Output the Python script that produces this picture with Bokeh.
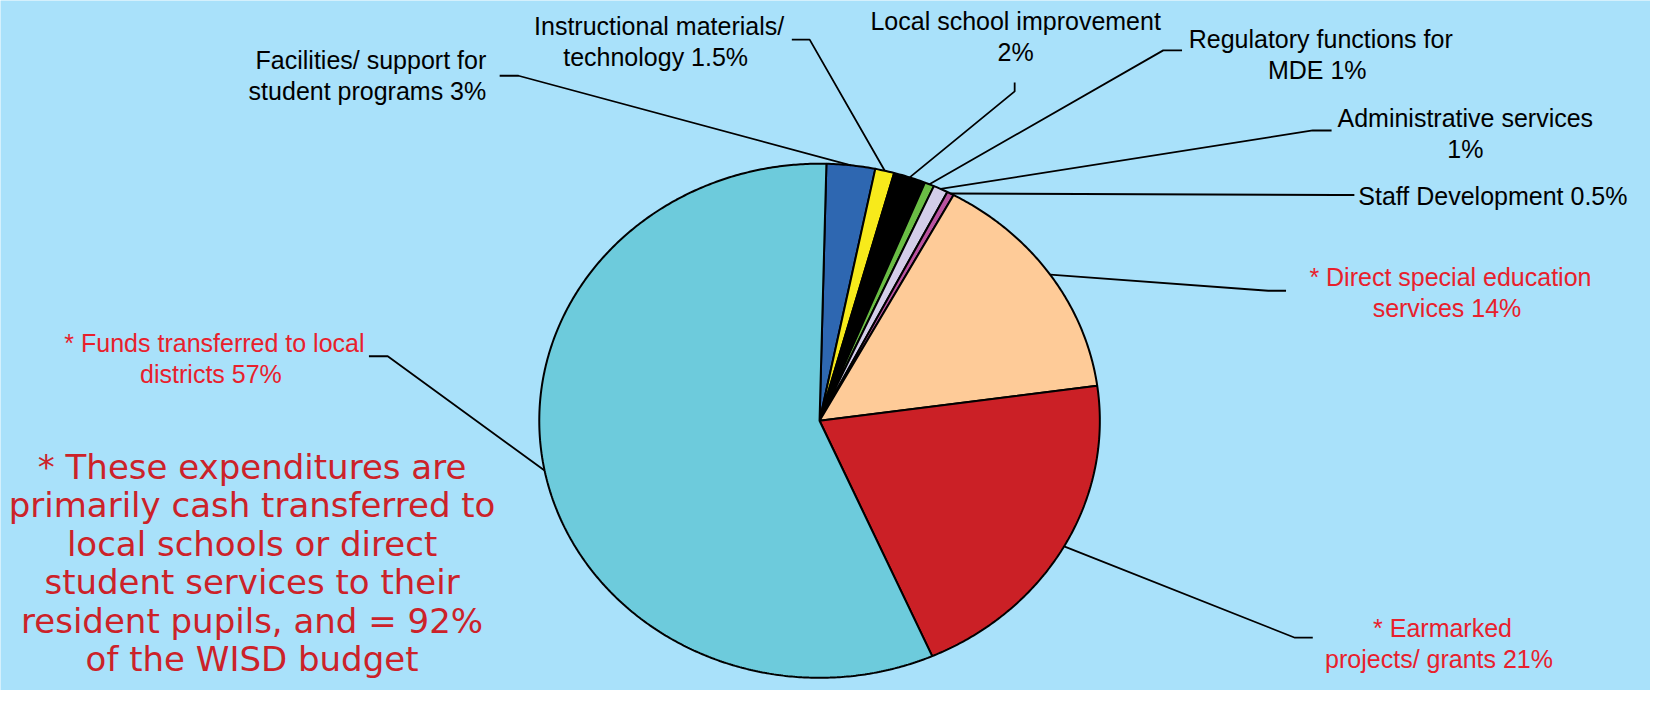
import numpy as np
from bokeh.plotting import figure
from bokeh.models import ColumnDataSource, Range1d
from bokeh.core.properties import value
from bokeh.embed import file_html
from bokeh.resources import INLINE

# ---------------- data ----------------
categories = [
    "Facilities/ support for student programs",
    "Instructional materials/ technology",
    "Local school improvement",
    "Regulatory functions for MDE",
    "Administrative services",
    "Staff Development",
    "* Direct special education services",
    "* Earmarked projects/ grants",
    "* Funds transferred to local districts",
]
# slice shares as drawn in the picture (percent)
shares = [2.8, 1.1, 1.85, 0.55, 0.85, 0.4, 14.9, 20.6, 57.0]
pct_labels = ["3%", "1.5%", "2%", "1%", "1%", "0.5%", "14%", "21%", "57%"]
colors = ["#2E67B1", "#F7EA1B", "#000000", "#6ABD45", "#D3CDE9",
          "#B9529F", "#FECB98", "#CB2026", "#6DCBDC"]
label_lines = [
    ["Facilities/ support for", "student programs  " + pct_labels[0]],
    ["Instructional materials/", "technology  " + pct_labels[1]],
    ["Local school improvement", pct_labels[2]],
    ["Regulatory functions for", "MDE  " + pct_labels[3]],
    ["Administrative services", pct_labels[4]],
    ["Staff Development  " + pct_labels[5]],
    ["* Direct special education", "services  " + pct_labels[6]],
    ["* Earmarked", "projects/ grants  " + pct_labels[7]],
    ["* Funds transferred to local", "districts  " + pct_labels[8]],
]
starred = [False, False, False, False, False, False, True, True, True]
footnote_lines = [
    "* These expenditures are",
    "primarily cash transferred to",
    "local schools or direct",
    "student services to their",
    "resident pupils, and = 92%",
    "of the WISD budget",
]

# ---------------- layout ----------------
W, H = 1650, 690
REF_W, REF_H = 1666, 706
BG = "#A9E1FA"
CX, CY, RX, RY = 827, 430, 283, 263
START_DEG = 88.6

# label anchor (x, first-line y), alignment, and leader elbow points
label_pos = [
    (374, 61, "center"), (665, 26, "center"), (1025, 21, "center"),
    (1333, 39, "center"), (1479, 120, "center"), (1371, 200, "left"),
    (1464, 283, "center"), (1456, 642, "center"), (216, 350, "center"),
]
line_gap = 32
elbows = [
    [(504, 77), (523, 77)],
    [(799, 40), (817, 40)],
    [(1024, 84), (1024, 93)],
    [(1193, 51), (1174, 51)],
    [(1344, 133), (1325, 133)],
    [(1367, 199), (1349, 199)],
    [(1298, 297), (1280, 297)],
    [(1325, 652), (1307, 652)],
    [(372, 364), (391, 364)],
]

p = figure(width=W, height=H, output_backend="svg", toolbar_location=None,
           x_range=Range1d(0, REF_W), y_range=Range1d(REF_H, 0),
           min_border=0, outline_line_color=None,
           background_fill_color=BG, border_fill_color=BG)
p.axis.visible = False
p.grid.visible = False

# ---------------- pie slices (elliptical) ----------------
vals = np.array(shares, dtype=float)
frac = vals / vals.sum()
ends = np.deg2rad(START_DEG) - 2 * np.pi * np.cumsum(frac)
starts = np.concatenate([[np.deg2rad(START_DEG)], ends[:-1]])
xs, ys, mids = [], [], []
for a0, a1 in zip(starts, ends):
    t = np.linspace(a0, a1, max(4, int(abs(a1 - a0) * 120)))
    xs.append(list(np.concatenate([[CX], CX + RX * np.cos(t)])))
    ys.append(list(np.concatenate([[CY], CY - RY * np.sin(t)])))
    mids.append((a0 + a1) / 2)
src = ColumnDataSource(dict(xs=xs, ys=ys, color=colors, name=categories))
p.patches("xs", "ys", source=src, fill_color="color", line_color="black",
          line_width=2)

# ---------------- leaders ----------------
for m, el in zip(mids, elbows):
    ex, ey = CX + RX * np.cos(m), CY - RY * np.sin(m)
    lx = [el[0][0], el[1][0], ex]
    ly = [el[0][1], el[1][1], ey]
    p.line(lx, ly, line_color="black", line_width=1.8)

# ---------------- labels ----------------
for lines, (x, y, al), st in zip(label_lines, label_pos, starred):
    n = len(lines)
    p.text(x=[x] * n, y=[y + i * line_gap for i in range(n)], text=lines,
           text_align=al, text_baseline="middle",
           text_font=value("Liberation Sans"), text_font_size="25px",
           text_color="#E8202C" if st else "#000000")

# ---------------- footnote ----------------
n = len(footnote_lines)
p.text(x=[254] * n, y=[477 + i * 39.4 for i in range(n)], text=footnote_lines,
       text_align="center", text_baseline="middle",
       text_font=value("DejaVu Sans"), text_font_size="34px",
       text_color="#CC2229")

open("out.html", "w").write(file_html(p, INLINE))
